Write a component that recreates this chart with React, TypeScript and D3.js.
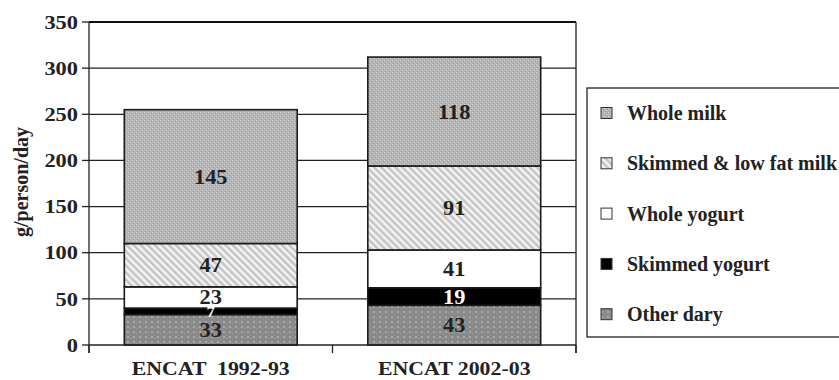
import React from "react";
import * as d3 from "d3";

const categories = ["ENCAT  1992-93", "ENCAT 2002-03"];
const seriesNames = ["Other dary", "Skimmed yogurt", "Whole yogurt", "Skimmed & low fat milk", "Whole milk"];
const otherDairy = [33, 43];
const skimmedYogurt = [7, 19];
const wholeYogurt = [23, 41];
const skimmedMilk = [47, 91];
const wholeMilk = [145, 118];
const yTicks = [0, 50, 100, 150, 200, 250, 300, 350];

const W = 839;
const H = 380;
const plot = { left: 89, right: 576, top: 22, bottom: 345 };
const FONT = "Liberation Serif, Times New Roman, Times, serif";

const fills = ["url(#p-other)", "#000", "#fff", "url(#p-skim)", "url(#p-whole)"];
const labelColors = ["#222", "#fff", "#222", "#222", "#222"];

type STProps = {
  x: number;
  y: number;
  size: number;
  sx?: number;
  anchor?: "start" | "middle" | "end";
  fill?: string;
  children: React.ReactNode;
};

// bold serif text with a slight horizontal widening
function SText({ x, y, size, sx = 1.12, anchor = "start", fill = "#222", children }: STProps) {
  return (
    <g transform={`translate(${x},${y}) scale(${sx},1)`}>
      <text
        x={0}
        y={0}
        dy="0.35em"
        textAnchor={anchor}
        fontSize={size}
        fontWeight="bold"
        fill={fill}
        style={{ whiteSpace: "pre" }}
      >
        {children}
      </text>
    </g>
  );
}

export default function App() {
  const table = categories.map((c, i) => ({
    cat: c,
    [seriesNames[0]]: otherDairy[i],
    [seriesNames[1]]: skimmedYogurt[i],
    [seriesNames[2]]: wholeYogurt[i],
    [seriesNames[3]]: skimmedMilk[i],
    [seriesNames[4]]: wholeMilk[i],
  }));
  const stacked = d3.stack<any>().keys(seriesNames)(table);

  const x = d3
    .scaleBand<string>()
    .domain(categories)
    .range([plot.left, plot.right])
    .paddingInner(0.29)
    .paddingOuter(0.145);
  const y = d3.scaleLinear().domain([0, 350]).range([plot.bottom, plot.top]);
  const step = x.step();

  // legend lists the series top-down, reverse of the stacking order
  const legendOrder = [4, 3, 2, 1, 0];

  return (
    <svg
      width={W}
      height={H}
      style={{ display: "block", position: "absolute", left: 0, top: 0, fontFamily: FONT }}
    >
      <defs>
        <pattern id="p-whole" width={4} height={4} patternUnits="userSpaceOnUse">
          <rect width={4} height={4} fill="#b5b5b5" />
          <rect x={0} y={0} width={1} height={1} fill="#d2d2d2" />
          <rect x={2} y={2} width={1} height={1} fill="#d0d0d0" />
          <rect x={1} y={3} width={1} height={1} fill="#9a9a9a" />
          <rect x={3} y={1} width={1} height={1} fill="#9d9d9d" />
        </pattern>
        <pattern id="p-skim" width={5} height={5} patternUnits="userSpaceOnUse" patternTransform="rotate(-45)">
          <rect width={5} height={5} fill="#f4f4f4" />
          <rect x={0} y={0} width={2.5} height={5} fill="#c4c4c4" />
        </pattern>
        <pattern id="p-other" width={6} height={5} patternUnits="userSpaceOnUse">
          <rect width={6} height={5} fill="#898989" />
          <rect x={1} y={1} width={2} height={2} fill="#a9a9a9" />
          <rect x={4} y={3} width={1} height={1} fill="#9d9d9d" />
        </pattern>
      </defs>

      <rect width={W} height={H} fill="#fff" />

      {/* gridlines */}
      {yTicks.slice(1, -1).map((t) => (
        <line key={t} x1={plot.left} x2={plot.right} y1={y(t)} y2={y(t)} stroke="#222" strokeWidth={1.3} />
      ))}
      {/* plot frame: top and right edges */}
      <line x1={plot.left} x2={plot.right} y1={y(350)} y2={y(350)} stroke="#111" strokeWidth={2.2} />
      <line x1={plot.right} x2={plot.right} y1={plot.top} y2={plot.bottom + 8} stroke="#222" strokeWidth={1.3} />

      {/* stacked bars */}
      {stacked.map((layer, li) =>
        layer.map((d, ci) => (
          <rect
            key={`${li}-${ci}`}
            x={x(categories[ci])!}
            y={y(d[1])}
            width={x.bandwidth()}
            height={y(d[0]) - y(d[1])}
            fill={fills[li]}
            stroke="#1a1a1a"
            strokeWidth={1.6}
          />
        ))
      )}

      {/* value labels */}
      {stacked.map((layer, li) =>
        layer.map((d, ci) => {
          const v = d[1] - d[0];
          return (
            <SText
              key={`l-${li}-${ci}`}
              x={x(categories[ci])! + x.bandwidth() / 2}
              y={(y(d[0]) + y(d[1])) / 2}
              size={v < 10 ? 15 : 20}
              anchor="middle"
              fill={labelColors[li]}
            >
              {v}
            </SText>
          );
        })
      )}

      {/* y axis */}
      <line x1={plot.left} x2={plot.left} y1={plot.top} y2={plot.bottom + 8} stroke="#222" strokeWidth={1.3} />
      {yTicks.map((t) => (
        <g key={t}>
          <line x1={plot.left - 7} x2={plot.left} y1={y(t)} y2={y(t)} stroke="#222" strokeWidth={1.3} />
          <SText x={plot.left - 11} y={y(t)} size={19} sx={1.18} anchor="end">
            {t}
          </SText>
        </g>
      ))}

      {/* x axis */}
      <line x1={plot.left} x2={plot.right} y1={plot.bottom} y2={plot.bottom} stroke="#222" strokeWidth={1.6} />
      {[0, 1, 2].map((i) => (
        <line
          key={i}
          x1={plot.left + i * step}
          x2={plot.left + i * step}
          y1={plot.bottom}
          y2={plot.bottom + 8}
          stroke="#222"
          strokeWidth={1.3}
        />
      ))}
      {categories.map((c) => (
        <SText key={c} x={x(c)! + x.bandwidth() / 2} y={368} size={19.5} sx={1.12} anchor="middle">
          {c}
        </SText>
      ))}

      {/* y axis title */}
      <text
        transform={`translate(28, 182) rotate(-90)`}
        textAnchor="middle"
        fontSize={20}
        fontWeight="bold"
        fill="#222"
      >
        g/person/day
      </text>

      {/* legend */}
      <rect x={587} y={88} width={270} height={249} fill="#fff" stroke="#222" strokeWidth={1.3} />
      {legendOrder.map((si, k) => {
        const cy = 113 + k * 50.3;
        return (
          <g key={si}>
            <rect x={601} y={cy - 5.5} width={11} height={11} fill={fills[si]} stroke="#333" strokeWidth={1} />
            <SText x={627} y={cy} size={20} sx={1.0}>
              {seriesNames[si]}
            </SText>
          </g>
        );
      })}
    </svg>
  );
}
